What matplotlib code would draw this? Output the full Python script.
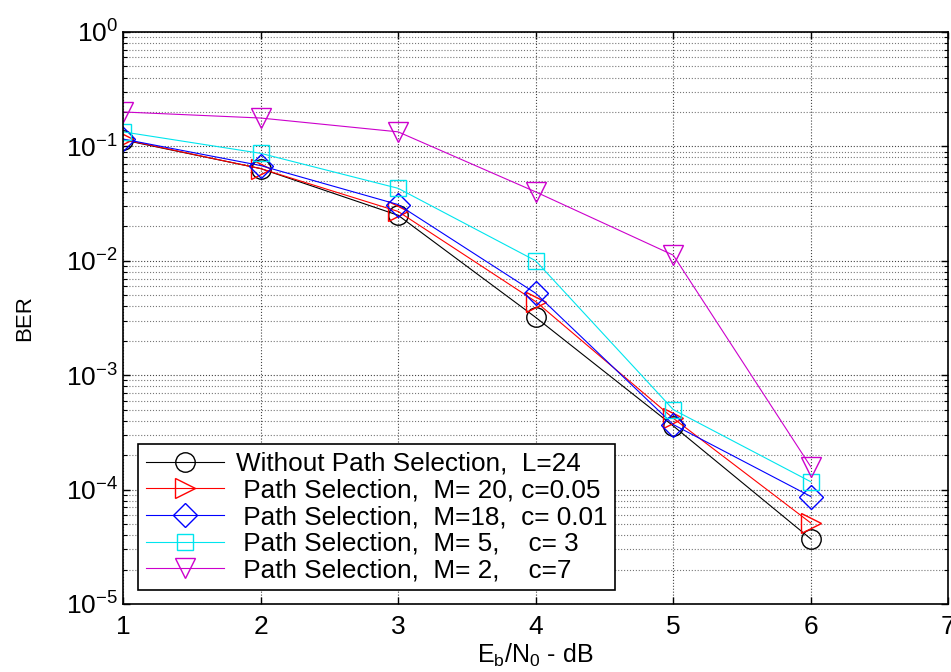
import numpy as np
import matplotlib.pyplot as plt

plt.rcParams['font.family'] = ['Liberation Sans', 'DejaVu Sans']
plt.rcParams['mathtext.fontset'] = 'custom'
plt.rcParams['mathtext.rm'] = 'Liberation Sans'
plt.rcParams['mathtext.it'] = 'Liberation Sans'

# --- data
ebno = [1, 2, 3, 4, 5, 6]
ber_no_sel = [0.114, 0.064, 0.025, 0.0032, 3.6e-4, 3.7e-5]
ber_m20 = [0.115, 0.064, 0.027, 0.0044, 4.2e-4, 5.1e-5]
ber_m18 = [0.116, 0.068, 0.031, 0.0052, 3.7e-4, 8.7e-5]
ber_m5 = [0.134, 0.087, 0.043, 0.0100, 5.0e-4, 1.17e-4]
ber_m2 = [0.200, 0.177, 0.134, 0.040, 0.0112, 1.58e-4]

labels = ['Without Path Selection,  L=24',
          ' Path Selection,  M= 20, c=0.05',
          ' Path Selection,  M=18,  c= 0.01',
          ' Path Selection,  M= 5,    c= 3',
          ' Path Selection,  M= 2,    c=7']

fig = plt.figure(figsize=(9.51, 6.72), dpi=100)
ax = fig.add_axes([0.1293, 0.1012, 0.868, 0.8512])

lw = 0.8
ax.semilogy(ebno, ber_no_sel, color='k', marker='o', ms=14, mfc='none', lw=lw, label=labels[0])
ax.semilogy(ebno, ber_m20, color='#ff0000', marker='>', ms=15, mfc='none', lw=lw, label=labels[1])
ax.semilogy(ebno, ber_m18, color='#0000ff', marker='D', ms=12, mfc='none', lw=lw, label=labels[2])
ax.semilogy(ebno, ber_m5, color='#00e5ee', marker='s', ms=12, mfc='none', lw=lw, label=labels[3])
ax.semilogy(ebno, ber_m2, color='#cc00cc', marker='v', ms=15, mfc='none', lw=lw, label=labels[4])

ax.set_xlim(1, 7)
ax.set_ylim(1e-5, 1)
ax.set_xticks([1, 2, 3, 4, 5, 6, 7])

#--- matlab style grid and ticks
ax.grid(True, which='major', linestyle=':', color='#444444', linewidth=0.8)
ax.grid(True, which='minor', axis='y', linestyle=':', color='#777777', linewidth=0.8)
ax.tick_params(which='both', direction='in', top=True, right=True, labelsize=19)
ax.tick_params(which='major', length=5, width=1)
ax.tick_params(which='minor', length=3, width=0.8)
ax.tick_params(axis='x', pad=8)
for s in ax.spines.values():
    s.set_linewidth(1.2)

ax.set_xlabel(r'$\mathregular{E_b/N_0}$ - dB', fontsize=18, labelpad=2)
ax.set_ylabel('BER', fontsize=16, labelpad=22)

leg = ax.legend(loc='lower left', bbox_to_anchor=(0.018, 0.024), borderaxespad=0,
                fontsize=18.8, fancybox=False, framealpha=1, edgecolor='k',
                handlelength=3.0, labelspacing=0.1, borderpad=0.3, handletextpad=0.45)
leg.get_frame().set_linewidth(1.2)

plt.savefig('out.png', dpi=100)
